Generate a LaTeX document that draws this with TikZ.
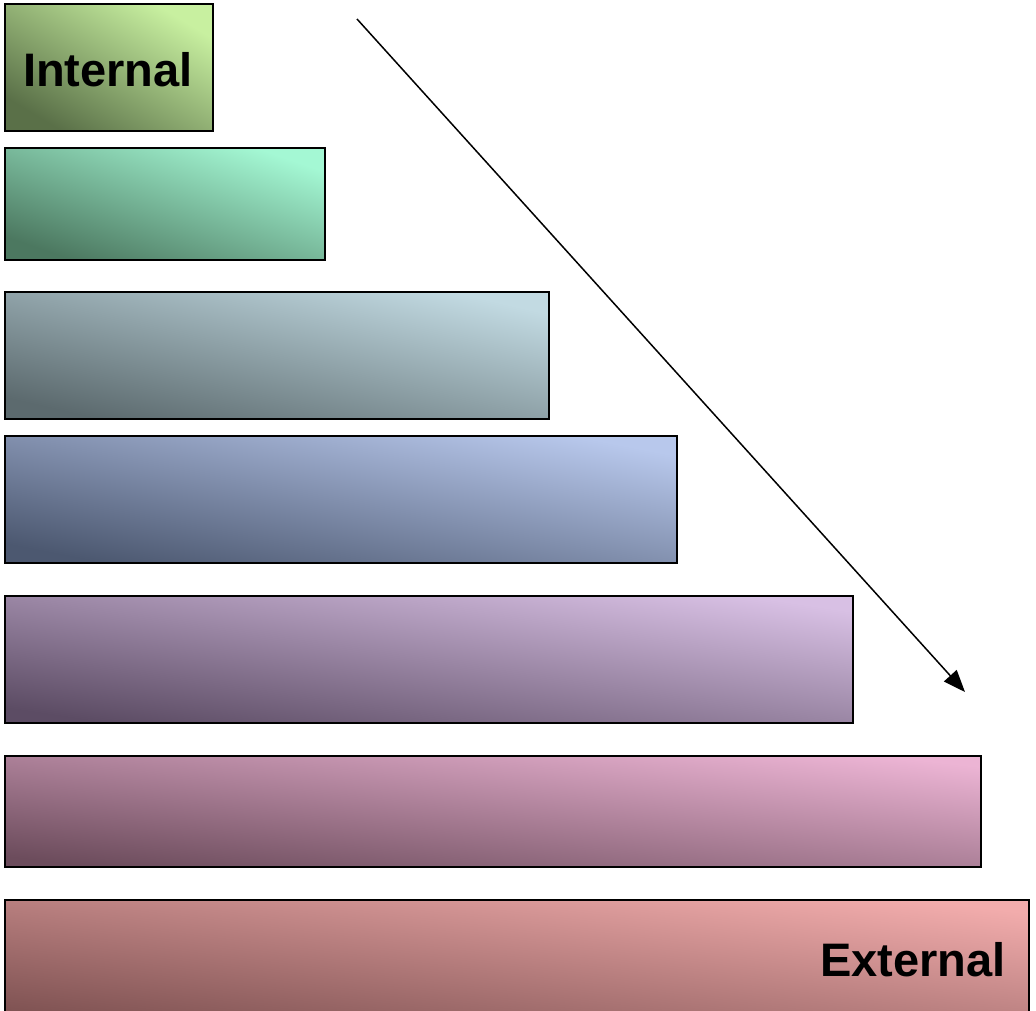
\documentclass[tikz,border=0pt]{standalone}
\usepackage{fontspec}
\setmainfont{Liberation Sans}
\usetikzlibrary{arrows.meta}
\begin{document}
\begin{tikzpicture}[x=1pt,y=-1pt,
  layer/.style={draw=black,line width=1.8pt,inner sep=0pt,outer sep=0pt,anchor=north west},
  lbl/.style={font=\bfseries\fontsize{47}{50}\selectfont,text=black,inner sep=0pt}]
\definecolor{g1a}{HTML}{C8F0A0}\definecolor{g1b}{HTML}{5A7048}
\definecolor{g2a}{HTML}{A4F8D4}\definecolor{g2b}{HTML}{4C7860}
\definecolor{g3a}{HTML}{C2DAE2}\definecolor{g3b}{HTML}{5C6A6E}
\definecolor{g4a}{HTML}{B8C8EC}\definecolor{g4b}{HTML}{4C5870}
\definecolor{g5a}{HTML}{D8C0E4}\definecolor{g5b}{HTML}{5C4C64}
\definecolor{g6a}{HTML}{ECB4D4}\definecolor{g6b}{HTML}{6C4C5C}
\definecolor{g7a}{HTML}{F2ACAC}\definecolor{g7b}{HTML}{7C5050}
\useasboundingbox (0,0) rectangle (1036,1011);
\clip (0,0) rectangle (1036,1011);
\node[layer,top color=g1a,bottom color=g1b,shading angle=-31,minimum width=208pt,minimum height=127pt] (b1) at (5,4) {};
\node[layer,top color=g2a,bottom color=g2b,shading angle=-19,minimum width=320pt,minimum height=112pt] (b2) at (5,148) {};
\node[layer,top color=g3a,bottom color=g3b,shading angle=-13,minimum width=544pt,minimum height=127pt] (b3) at (5,292) {};
\node[layer,top color=g4a,bottom color=g4b,shading angle=-11,minimum width=672pt,minimum height=127pt] (b4) at (5,436) {};
\node[layer,top color=g5a,bottom color=g5b,shading angle=-8.5,minimum width=848pt,minimum height=127pt] (b5) at (5,596) {};
\node[layer,top color=g6a,bottom color=g6b,shading angle=-6.5,minimum width=976pt,minimum height=111pt] (b6) at (5,756) {};
\node[layer,top color=g7a,bottom color=g7b,shading angle=-7,minimum width=1024pt,minimum height=130pt] (b7) at (5,900) {};
\node[lbl] (tin) at (108,70) {Internal};
\node[lbl,anchor=east] (tex) at (1006,960) {External};
\coordinate (as) at (357,19);
\coordinate (ae) at (965,692);
\draw[line width=1.5pt,-{Triangle[length=22pt,width=17pt]}] (as) -- (ae);
\end{tikzpicture}
\end{document}
